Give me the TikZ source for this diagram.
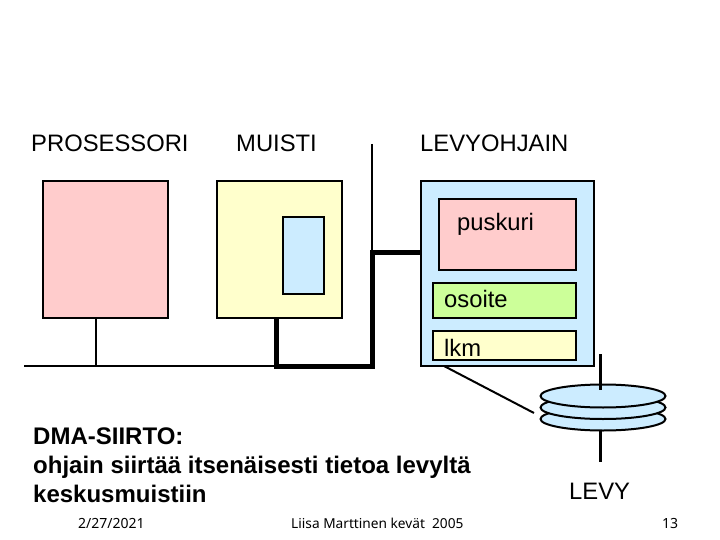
\documentclass[tikz,border=0pt]{standalone}
\usepackage{fontspec}
\setmainfont{Liberation Sans}
\newfontfamily\footfont{Noto Sans}
\definecolor{cpink}{HTML}{FFCCCC}
\definecolor{cyel}{HTML}{FFFFCC}
\definecolor{cblue}{HTML}{CCECFF}
\definecolor{cgreen}{HTML}{CCFF99}
\usetikzlibrary{shapes.geometric}
\tikzset{
  box/.style={draw=black,line width=2pt,inner sep=0pt,outer sep=0pt},
  title/.style={font=\fontsize{23.8}{28}\selectfont,inner sep=0pt,anchor=base west,text=black},
  boxtext/.style={font=\fontsize{23.8}{28}\selectfont,inner sep=0pt,anchor=base west,text=black},
  foot/.style={font=\footfont\fontsize{14}{16}\selectfont,inner sep=0pt,anchor=base west},
  dmatext/.style={font=\bfseries\fontsize{24}{29}\selectfont,anchor=base west,inner sep=0pt},
  thinline/.style={line width=2pt},
  thickline/.style={line width=5pt},
  disk/.style={draw=black,fill=cblue,line width=2pt,ellipse,minimum width=125pt,minimum height=23pt,inner sep=0pt},
}
\begin{document}
\begin{tikzpicture}[x=1pt,y=-1pt]
\useasboundingbox (0,0) rectangle (720,540);
\node[box,fill=cpink,minimum width=125pt,minimum height=137pt] (proc) at (105.5,249.5) {};
\node[box,fill=cyel,minimum width=125pt,minimum height=137pt] (mem) at (279.5,249.5) {};
\node[box,fill=cblue,minimum width=41pt,minimum height=77pt] (memin) at (303.5,255.5) {};
\node[box,fill=cblue,minimum width=173pt,minimum height=185pt] (ctrl) at (507.5,273.5) {};
\node[box,fill=cpink,minimum width=137pt,minimum height=71pt] (pusk) at (507.5,234.5) {};
\node[box,fill=cgreen,minimum width=143pt,minimum height=35pt] (osoite) at (504.5,300.5) {};
\node[box,fill=cyel,minimum width=143pt,minimum height=29pt] (lkm) at (504.5,345.5) {};
\node[boxtext] (tpusk) at (457,230) {puskuri};
\node[boxtext] (tos) at (444,307.5) {osoite};
\node[boxtext] (tlkm) at (444,356) {lkm};
\node[title] (tproc) at (31,152) {PROSESSORI};
\node[title] (tmem) at (236,152) {MUISTI};
\node[title] (tctrl) at (420,152) {LEVYOHJAIN};
\node[title] (tlevy) at (569,499) {LEVY};
\coordinate (busl) at (24,366);
\coordinate (busm) at (276,366);
\coordinate (busp) at (96,366);
\coordinate (busr) at (372,366);
\coordinate (buscorner) at (372,252);
\coordinate (bustop) at (372,144);
\draw[thinline] (busl) -- (busm);
\draw[thinline] (proc.south -| busp) -- (busp);
\draw[thinline] (bustop) -- (buscorner);
\draw[thickline,line cap=butt,line join=miter] (mem.south -| busm) -- (busm) -- (busr) -- (buscorner) -- (buscorner -| ctrl.west);
\node[disk] (d3) at (603,419) {};
\node[disk] (d2) at (603,407.5) {};
\node[disk] (d1) at (603,396) {};
\coordinate (spt) at (600.5,354);
\coordinate (sptb) at (600.5,390);
\coordinate (spb) at (600.5,431);
\coordinate (spbb) at (600.5,462);
\draw[line width=3pt] (spt) -- (sptb);
\draw[line width=3pt] (spb) -- (spbb);
\coordinate (armstart) at (444,366);
\coordinate (armend) at (534,413);
\draw[line width=2pt] (armstart) -- (armend);
\node[dmatext] (dma) at (33,444) {DMA-SIIRTO:};
\node[dmatext] (dmab) at (33,473) {ohjain siirtää itsenäisesti tietoa levyltä};
\node[dmatext] (dmac) at (33,502) {keskusmuistiin};
\node[foot] (f1) at (78,528) {2/27/2021};
\node[foot,font=\footfont\fontsize{13.7}{16}\selectfont] (f2) at (291,528) {Liisa Marttinen kevät\ \ 2005};
\node[foot] (f3) at (662,528) {13};
\end{tikzpicture}
\end{document}
